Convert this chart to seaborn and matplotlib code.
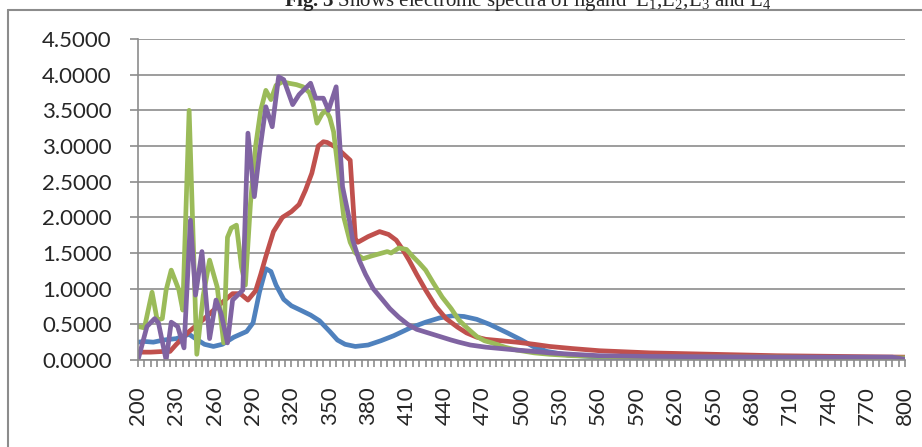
import matplotlib
matplotlib.use('Agg')
import matplotlib.pyplot as plt
import matplotlib.ticker as mticker
import seaborn as sns
import pandas as pd

# wavelength (nm) / absorbance
wl_L1 = [200, 205, 212, 220, 230, 240, 245, 252, 259, 266, 275, 285, 290, 295, 300, 304, 308, 314,
         320, 327, 335, 342, 350, 356, 362, 370, 380, 390, 400, 413, 425, 436, 446, 455, 465, 475,
         489, 500, 509, 520, 536, 561, 600, 650, 700, 750, 800]
abs_L1 = [0.25, 0.26, 0.25, 0.28, 0.30, 0.36, 0.30, 0.22, 0.19, 0.22, 0.32, 0.40, 0.52, 0.95, 1.28,
          1.24, 1.05, 0.85, 0.76, 0.70, 0.63, 0.55, 0.40, 0.28, 0.22, 0.19, 0.21, 0.27, 0.34, 0.45,
          0.53, 0.59, 0.62, 0.61, 0.57, 0.50, 0.38, 0.28, 0.19, 0.12, 0.07, 0.04, 0.03, 0.03, 0.03,
          0.03, 0.02]

wl_L2 = [200, 210, 220, 225, 230, 240, 248, 255, 261, 268, 274, 280, 286, 292, 296, 300, 306, 313,
         320, 326, 331, 336, 341, 345, 348, 355, 360, 366, 370, 372, 380, 389, 396, 402, 407, 412,
         418, 425, 433, 441, 450, 457, 465, 472, 484, 496, 510, 522, 540, 561, 600, 650, 700, 750, 800]
abs_L2 = [0.11, 0.11, 0.12, 0.12, 0.22, 0.40, 0.52, 0.63, 0.73, 0.84, 0.93, 0.93, 0.84, 0.97, 1.20,
          1.45, 1.80, 2.00, 2.08, 2.18, 2.38, 2.62, 3.00, 3.06, 3.05, 2.98, 2.90, 2.80, 1.70, 1.65,
          1.73, 1.80, 1.76, 1.68, 1.55, 1.40, 1.20, 0.98, 0.75, 0.58, 0.46, 0.38, 0.32, 0.29, 0.27,
          0.25, 0.22, 0.19, 0.16, 0.13, 0.10, 0.08, 0.06, 0.05, 0.04]

wl_L3 = [200, 205, 211, 215, 219, 222, 226, 232, 235, 240, 246, 251, 256, 262, 267, 270, 273, 277,
         281, 284, 288, 292, 296, 300, 304, 308, 313, 318, 324, 329, 334, 337, 340, 344, 347, 350,
         353, 357, 361, 366, 370, 376, 383, 391, 395, 398, 404, 410, 415, 420, 425, 431, 438, 445,
         451, 458, 465, 471, 477, 487, 496, 510, 522, 540, 561, 600, 700, 800]
abs_L3 = [0.47, 0.45, 0.95, 0.56, 0.58, 0.98, 1.26, 0.98, 0.70, 3.50, 0.08, 0.90, 1.40, 1.02, 0.24,
          1.72, 1.85, 1.89, 1.30, 1.05, 2.20, 3.00, 3.50, 3.78, 3.65, 3.85, 3.90, 3.88, 3.86, 3.83,
          3.75, 3.60, 3.32, 3.45, 3.50, 3.40, 3.20, 2.60, 2.00, 1.65, 1.50, 1.42, 1.46, 1.50, 1.52,
          1.50, 1.57, 1.55, 1.45, 1.36, 1.26, 1.08, 0.88, 0.72, 0.56, 0.44, 0.33, 0.27, 0.24, 0.18,
          0.14, 0.10, 0.08, 0.06, 0.05, 0.04, 0.04, 0.03]

wl_L4 = [200, 207, 213, 216, 222, 226, 231, 236, 241, 245, 250, 256, 261, 265, 270, 274, 282, 286,
         291, 295, 300, 305, 310, 314, 321, 326, 335, 339, 345, 349, 355, 360, 365, 368, 373, 378,
         384, 391, 397, 404, 411, 418, 427, 436, 445, 451, 460, 472, 484, 496, 510, 522, 540, 561,
         600, 700, 790, 800]
abs_L4 = [0.00, 0.47, 0.58, 0.52, 0.00, 0.53, 0.47, 0.17, 1.96, 0.91, 1.52, 0.30, 0.84, 0.65, 0.24,
          0.84, 0.98, 3.18, 2.29, 2.90, 3.55, 3.27, 3.97, 3.93, 3.58, 3.72, 3.88, 3.67, 3.67, 3.50,
          3.83, 2.43, 2.00, 1.68, 1.40, 1.20, 1.00, 0.85, 0.72, 0.60, 0.50, 0.43, 0.38, 0.33, 0.28,
          0.25, 0.21, 0.18, 0.16, 0.14, 0.12, 0.10, 0.08, 0.06, 0.05, 0.04, 0.04, 0.01]

ligands = ['L1', 'L2', 'L3', 'L4']
colors = ['#4F81BD', '#C0504D', '#9BBB59', '#8064A2']
xlabels = list(range(200, 801, 30))

frames = []
for name, wl, ab in zip(ligands, [wl_L1, wl_L2, wl_L3, wl_L4], [abs_L1, abs_L2, abs_L3, abs_L4]):
    frames.append(pd.DataFrame({'nm': wl, 'abs': ab, 'ligand': name}))
df = pd.concat(frames, ignore_index=True)

sns.set_style('white')
plt.rcParams['font.family'] = ['Lato', 'DejaVu Sans']
plt.rcParams['mathtext.fontset'] = 'custom'
plt.rcParams['mathtext.rm'] = 'Liberation Serif'
plt.rcParams['mathtext.bf'] = 'Liberation Serif:bold'

grey = '#8c8c8c'
fig = plt.figure(figsize=(9.22, 4.47), dpi=100)
ax = fig.add_axes([138 / 922, 87 / 447, (905 - 138) / 922, (360 - 39) / 447])

sns.lineplot(data=df, x='nm', y='abs', hue='ligand', palette=colors, estimator=None,
             linewidth=3.4, legend=False, ax=ax)

ax.set_xlim(200, 800)
ax.set_ylim(0, 4.5)
ax.set_xticks(xlabels)
ax.set_xticklabels([str(v) for v in xlabels], rotation=90)
ax.xaxis.set_minor_locator(mticker.MultipleLocator(5))
ax.set_yticks([i * 0.5 for i in range(10)])
ax.yaxis.set_major_formatter(mticker.FormatStrFormatter('%.4f'))
ax.set_xlabel('')
ax.set_ylabel('')

ax.grid(axis='y', color=grey, linewidth=1.2)
ax.grid(axis='x', visible=False)
ax.set_axisbelow(True)
for s in ['top', 'right']:
    ax.spines[s].set_visible(False)
for s in ['left', 'bottom']:
    ax.spines[s].set_color(grey)
    ax.spines[s].set_linewidth(1.2)

ax.tick_params(axis='y', which='major', direction='out', length=6, width=1.2, color=grey,
               labelsize=16, pad=13, left=True)
ax.tick_params(axis='x', which='both', direction='out', length=5, width=1.2, color=grey,
               bottom=True)
ax.tick_params(axis='x', which='major', labelsize=16, pad=14)

# chart area frame (cut by the picture edge)
fig.add_artist(plt.Line2D([8 / 922, 1], [1 - 10 / 447, 1 - 10 / 447], color=grey, linewidth=1.5,
                          transform=fig.transFigure))
fig.add_artist(plt.Line2D([8 / 922, 8 / 922], [0, 1 - 10 / 447], color=grey, linewidth=1.5,
                          transform=fig.transFigure))

fig.text(528 / 922, 1 - 6 / 447,
         r'$\mathbf{Fig.3}$ Shows electronic spectra of ligand  L$_1$,L$_2$,L$_3$ and L$_4$',
         ha='center', va='baseline', fontsize=15, family='Liberation Serif')

fig.savefig('out.png', dpi=100)
